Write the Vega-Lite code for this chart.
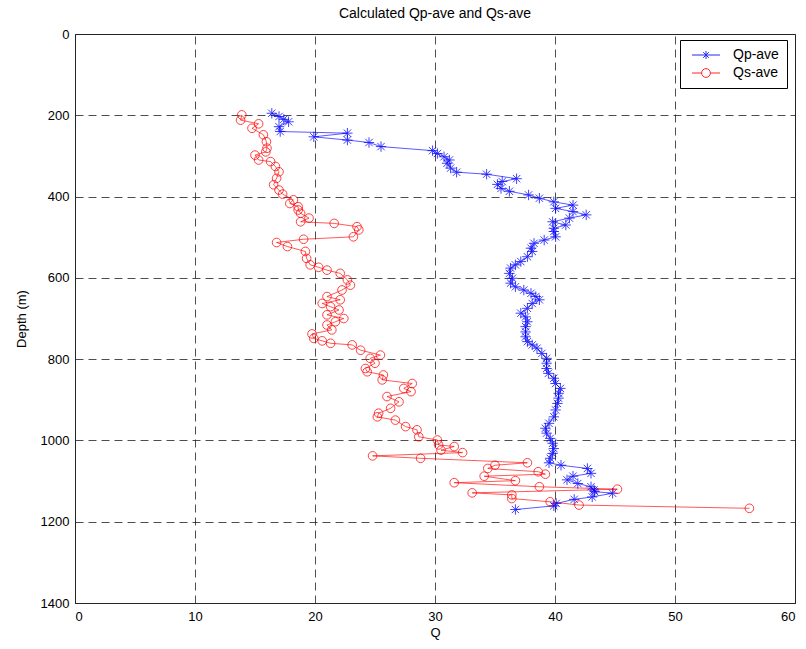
{
"$schema": "https://vega.github.io/schema/vega-lite/v6.json",
"width": 720, "height": 569,
"autosize": {"type": "none"},
"padding": {"left": 75, "top": 34, "right": 11, "bottom": 46},
"background": "white",
"title": {"text": "Calculated Qp-ave and Qs-ave", "fontSize": 14, "fontWeight": "normal", "font": "Liberation Sans", "color": "#000", "offset": 7},
"data": {"values": [
{"s":"Qp-ave","d":195,"q":16.4},{"s":"Qp-ave","d":203,"q":17.0},{"s":"Qp-ave","d":210,"q":17.4},{"s":"Qp-ave","d":216,"q":17.8},{"s":"Qp-ave","d":228,"q":17.0},{"s":"Qp-ave","d":240,"q":17.1},{"s":"Qp-ave","d":244,"q":22.7},{"s":"Qp-ave","d":253,"q":19.9},{"s":"Qp-ave","d":261,"q":22.7},{"s":"Qp-ave","d":267,"q":24.5},{"s":"Qp-ave","d":277,"q":25.5},{"s":"Qp-ave","d":287,"q":29.8},{"s":"Qp-ave","d":294,"q":30.2},{"s":"Qp-ave","d":302,"q":30.75},{"s":"Qp-ave","d":310,"q":31.2},{"s":"Qp-ave","d":318,"q":31.0},{"s":"Qp-ave","d":330,"q":31.3},{"s":"Qp-ave","d":340,"q":31.8},{"s":"Qp-ave","d":345,"q":34.3},{"s":"Qp-ave","d":356,"q":36.8},{"s":"Qp-ave","d":363,"q":35.6},{"s":"Qp-ave","d":370,"q":35.2},{"s":"Qp-ave","d":380,"q":35.5},{"s":"Qp-ave","d":387,"q":36.2},{"s":"Qp-ave","d":396,"q":37.8},{"s":"Qp-ave","d":404,"q":38.7},{"s":"Qp-ave","d":413,"q":39.9},{"s":"Qp-ave","d":421,"q":41.5},{"s":"Qp-ave","d":429,"q":40.05},{"s":"Qp-ave","d":437,"q":41.5},{"s":"Qp-ave","d":445,"q":42.6},{"s":"Qp-ave","d":453,"q":41.2},{"s":"Qp-ave","d":462,"q":39.8},{"s":"Qp-ave","d":470,"q":40.9},{"s":"Qp-ave","d":478,"q":39.9},{"s":"Qp-ave","d":486,"q":39.9},{"s":"Qp-ave","d":499,"q":40.05},{"s":"Qp-ave","d":507,"q":39.1},{"s":"Qp-ave","d":515,"q":38.25},{"s":"Qp-ave","d":527,"q":38.0},{"s":"Qp-ave","d":535,"q":38.1},{"s":"Qp-ave","d":548,"q":37.7},{"s":"Qp-ave","d":560,"q":37.15},{"s":"Qp-ave","d":568,"q":36.7},{"s":"Qp-ave","d":576,"q":36.3},{"s":"Qp-ave","d":589,"q":36.2},{"s":"Qp-ave","d":601,"q":36.45},{"s":"Qp-ave","d":613,"q":36.3},{"s":"Qp-ave","d":622,"q":36.7},{"s":"Qp-ave","d":630,"q":37.4},{"s":"Qp-ave","d":638,"q":38.0},{"s":"Qp-ave","d":646,"q":38.4},{"s":"Qp-ave","d":654,"q":38.7},{"s":"Qp-ave","d":663,"q":38.1},{"s":"Qp-ave","d":675,"q":37.7},{"s":"Qp-ave","d":687,"q":37.15},{"s":"Qp-ave","d":696,"q":37.55},{"s":"Qp-ave","d":708,"q":37.7},{"s":"Qp-ave","d":720,"q":37.55},{"s":"Qp-ave","d":733,"q":37.55},{"s":"Qp-ave","d":745,"q":37.55},{"s":"Qp-ave","d":757,"q":37.7},{"s":"Qp-ave","d":765,"q":38.1},{"s":"Qp-ave","d":773,"q":38.5},{"s":"Qp-ave","d":786,"q":38.9},{"s":"Qp-ave","d":798,"q":39.3},{"s":"Qp-ave","d":810,"q":39.3},{"s":"Qp-ave","d":823,"q":39.3},{"s":"Qp-ave","d":835,"q":39.45},{"s":"Qp-ave","d":847,"q":39.9},{"s":"Qp-ave","d":860,"q":40.05},{"s":"Qp-ave","d":872,"q":40.45},{"s":"Qp-ave","d":884,"q":40.3},{"s":"Qp-ave","d":896,"q":40.3},{"s":"Qp-ave","d":909,"q":40.2},{"s":"Qp-ave","d":925,"q":40.05},{"s":"Qp-ave","d":942,"q":39.9},{"s":"Qp-ave","d":958,"q":39.5},{"s":"Qp-ave","d":970,"q":39.2},{"s":"Qp-ave","d":982,"q":39.3},{"s":"Qp-ave","d":995,"q":39.6},{"s":"Qp-ave","d":1007,"q":39.8},{"s":"Qp-ave","d":1020,"q":39.9},{"s":"Qp-ave","d":1032,"q":39.8},{"s":"Qp-ave","d":1044,"q":39.6},{"s":"Qp-ave","d":1055,"q":39.5},{"s":"Qp-ave","d":1061,"q":40.5},{"s":"Qp-ave","d":1069,"q":42.7},{"s":"Qp-ave","d":1081,"q":43.0},{"s":"Qp-ave","d":1088,"q":41.5},{"s":"Qp-ave","d":1097,"q":41.0},{"s":"Qp-ave","d":1106,"q":41.9},{"s":"Qp-ave","d":1114,"q":43.0},{"s":"Qp-ave","d":1122,"q":43.25},{"s":"Qp-ave","d":1126,"q":43.3},{"s":"Qp-ave","d":1130,"q":44.8},{"s":"Qp-ave","d":1139,"q":43.1},{"s":"Qp-ave","d":1145,"q":41.6},{"s":"Qp-ave","d":1155,"q":40.1},{"s":"Qp-ave","d":1161,"q":39.9},{"s":"Qp-ave","d":1170,"q":36.7},
{"s":"Qs-ave","d":199,"q":13.9},{"s":"Qs-ave","d":212,"q":13.8},{"s":"Qs-ave","d":221,"q":15.3},{"s":"Qs-ave","d":232,"q":14.75},{"s":"Qs-ave","d":248,"q":15.7},{"s":"Qs-ave","d":265,"q":15.95},{"s":"Qs-ave","d":281,"q":16.0},{"s":"Qs-ave","d":290,"q":15.9},{"s":"Qs-ave","d":298,"q":15.0},{"s":"Qs-ave","d":310,"q":15.3},{"s":"Qs-ave","d":314,"q":16.3},{"s":"Qs-ave","d":326,"q":16.7},{"s":"Qs-ave","d":339,"q":17.0},{"s":"Qs-ave","d":355,"q":16.8},{"s":"Qs-ave","d":371,"q":16.55},{"s":"Qs-ave","d":384,"q":17.0},{"s":"Qs-ave","d":394,"q":17.3},{"s":"Qs-ave","d":408,"q":18.2},{"s":"Qs-ave","d":417,"q":17.9},{"s":"Qs-ave","d":425,"q":18.6},{"s":"Qs-ave","d":433,"q":18.6},{"s":"Qs-ave","d":441,"q":18.8},{"s":"Qs-ave","d":453,"q":19.5},{"s":"Qs-ave","d":462,"q":18.8},{"s":"Qs-ave","d":466,"q":21.6},{"s":"Qs-ave","d":474,"q":23.5},{"s":"Qs-ave","d":482,"q":23.65},{"s":"Qs-ave","d":499,"q":23.2},{"s":"Qs-ave","d":505,"q":19.05},{"s":"Qs-ave","d":513,"q":16.8},{"s":"Qs-ave","d":523,"q":17.7},{"s":"Qs-ave","d":535,"q":19.2},{"s":"Qs-ave","d":552,"q":19.3},{"s":"Qs-ave","d":568,"q":19.6},{"s":"Qs-ave","d":574,"q":20.3},{"s":"Qs-ave","d":581,"q":21.0},{"s":"Qs-ave","d":589,"q":22.1},{"s":"Qs-ave","d":605,"q":22.7},{"s":"Qs-ave","d":618,"q":22.95},{"s":"Qs-ave","d":630,"q":22.25},{"s":"Qs-ave","d":646,"q":21.0},{"s":"Qs-ave","d":654,"q":22.1},{"s":"Qs-ave","d":663,"q":20.6},{"s":"Qs-ave","d":671,"q":21.3},{"s":"Qs-ave","d":679,"q":22.0},{"s":"Qs-ave","d":691,"q":21.0},{"s":"Qs-ave","d":700,"q":22.4},{"s":"Qs-ave","d":708,"q":21.7},{"s":"Qs-ave","d":716,"q":21.0},{"s":"Qs-ave","d":728,"q":21.4},{"s":"Qs-ave","d":738,"q":19.75},{"s":"Qs-ave","d":749,"q":19.9},{"s":"Qs-ave","d":755,"q":20.6},{"s":"Qs-ave","d":761,"q":21.3},{"s":"Qs-ave","d":765,"q":23.1},{"s":"Qs-ave","d":778,"q":23.8},{"s":"Qs-ave","d":790,"q":25.45},{"s":"Qs-ave","d":798,"q":24.6},{"s":"Qs-ave","d":810,"q":25.0},{"s":"Qs-ave","d":823,"q":24.2},{"s":"Qs-ave","d":831,"q":24.35},{"s":"Qs-ave","d":839,"q":25.7},{"s":"Qs-ave","d":851,"q":25.6},{"s":"Qs-ave","d":860,"q":28.1},{"s":"Qs-ave","d":872,"q":27.4},{"s":"Qs-ave","d":880,"q":28.0},{"s":"Qs-ave","d":892,"q":26.0},{"s":"Qs-ave","d":905,"q":27.0},{"s":"Qs-ave","d":921,"q":26.3},{"s":"Qs-ave","d":933,"q":25.3},{"s":"Qs-ave","d":942,"q":25.2},{"s":"Qs-ave","d":950,"q":26.7},{"s":"Qs-ave","d":966,"q":27.55},{"s":"Qs-ave","d":974,"q":28.5},{"s":"Qs-ave","d":991,"q":28.65},{"s":"Qs-ave","d":999,"q":30.2},{"s":"Qs-ave","d":1011,"q":30.3},{"s":"Qs-ave","d":1015,"q":31.6},{"s":"Qs-ave","d":1024,"q":30.5},{"s":"Qs-ave","d":1030,"q":32.3},{"s":"Qs-ave","d":1038,"q":24.8},{"s":"Qs-ave","d":1044,"q":28.8},{"s":"Qs-ave","d":1055,"q":37.7},{"s":"Qs-ave","d":1061,"q":35.0},{"s":"Qs-ave","d":1069,"q":34.4},{"s":"Qs-ave","d":1077,"q":38.6},{"s":"Qs-ave","d":1083,"q":39.2},{"s":"Qs-ave","d":1088,"q":34.1},{"s":"Qs-ave","d":1099,"q":36.7},{"s":"Qs-ave","d":1104,"q":31.6},{"s":"Qs-ave","d":1114,"q":38.7},{"s":"Qs-ave","d":1120,"q":45.2},{"s":"Qs-ave","d":1129,"q":33.1},{"s":"Qs-ave","d":1134,"q":36.4},{"s":"Qs-ave","d":1143,"q":36.4},{"s":"Qs-ave","d":1151,"q":39.6},{"s":"Qs-ave","d":1159,"q":42.0},{"s":"Qs-ave","d":1167,"q":56.2}
]},
"encoding": {
  "x": {"field": "q", "type": "quantitative", "scale": {"domain": [0, 60], "nice": false}, "axis": {"title": "Q", "values": [0,10,20,30,40,50,60]}},
  "y": {"field": "d", "type": "quantitative", "scale": {"domain": [0, 1400], "reverse": true, "nice": false}, "axis": {"title": "Depth (m)", "format": "d", "values": [0,200,400,600,800,1000,1200,1400]}},
  "color": {"field": "s", "type": "nominal", "scale": {"domain": ["Qp-ave", "Qs-ave"], "range": ["#0000ff", "#ff0000"]},
    "legend": {"orient": "none", "legendX": 605, "legendY": 6, "title": null, "strokeColor": "#000", "fillColor": "#fff", "padding": 8, "symbolSize": 64, "symbolOffset": 11, "labelOffset": 20, "rowPadding": 4, "labelFont": "Liberation Sans", "labelFontSize": 14, "labelColor": "#000",
      "symbolType": {"expr": "datum.value == 'Qp-ave' ? 'M-3.5,0L3.5,0M0,-1L0,1M-0.7,-0.7L0.7,0.7M-0.7,0.7L0.7,-0.7' : 'M-3.5,0L-1.1,0M1.1,0L3.5,0M1.1,0A1.1,1.1 0 1,1 -1.1,0A1.1,1.1 0 1,1 1.1,0'"},
      "symbolFillColor": "transparent", "symbolStrokeWidth": 1, "symbolOpacity": 0.85}}
},
"layer": [
  {"mark": {"type": "line", "strokeWidth": 1, "opacity": 0.65}, "encoding": {"order": {"field": "d", "type": "quantitative"}}},
  {"transform": [{"filter": "datum.s == 'Qp-ave'"}],
   "mark": {"type": "point", "filled": false, "strokeWidth": 1, "opacity": 0.75, "size": 75, "shape": "M-1.2,0L1.2,0M0,-1.2L0,1.2M-0.85,-0.85L0.85,0.85M-0.85,0.85L0.85,-0.85"}},
  {"transform": [{"filter": "datum.s == 'Qs-ave'"}],
   "mark": {"type": "point", "filled": false, "strokeWidth": 1, "opacity": 0.75, "size": 75, "shape": "circle"}}
],
"config": {
  "view": {"stroke": "#262626", "strokeWidth": 1},
  "axis": {"domainColor": "#262626", "ticks": false, "grid": true, "gridColor": "#222", "gridOpacity": 0.8, "gridDash": [8, 5], "gridWidth": 1,
    "labelFont": "Liberation Sans", "labelFontSize": 13, "labelColor": "#000", "titleFont": "Liberation Sans", "titleFontSize": 13, "titleFontWeight": "normal", "titleColor": "#000"},
  "axisX": {"labelPadding": 7, "titlePadding": 3},
  "axisY": {"labelPadding": 6, "titlePadding": 12}
}
}
